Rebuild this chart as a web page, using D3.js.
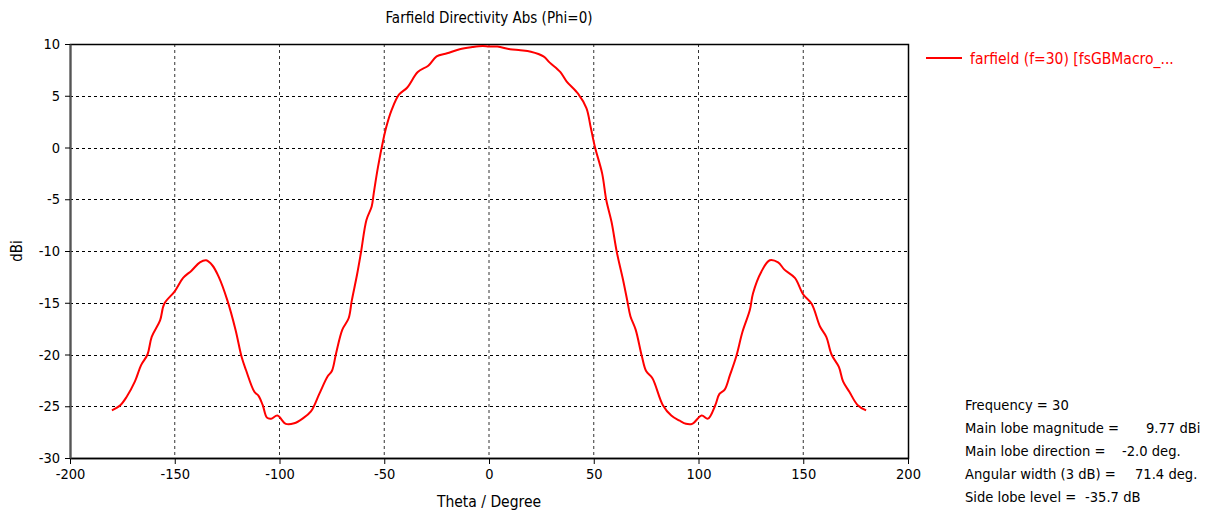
<!DOCTYPE html>
<html>
<head>
<meta charset="utf-8">
<script src="https://cdn.jsdelivr.net/npm/d3@7"></script>
<style>
  body { margin: 0; background: #fff; }
  text { font-family: Tahoma, "DejaVu Sans Condensed", "DejaVu Sans", sans-serif; }
</style>
</head>
<body>
<div id="chart"></div>
<script>
// data (theta in degrees, directivity in dBi)
const THETA = [-180, -176, -173, -169, -166, -163, -161, -157, -155, -150,
  -146, -142, -138, -135, -132, -129, -125, -121, -118, -116,
  -112, -110, -108, -106, -104, -101, -97, -93, -89, -85,
  -81, -77, -75, -73, -70, -67, -65.5, -63, -61, -58.5,
  -56, -55, -53, -50.5, -49, -46.5, -43, -39, -34, -29,
  -25, -20, -14, -8, -3, 0, 4, 10, 15, 20,
  26, 29, 34, 37, 42.5, 46.5, 48.5, 50.5, 54, 56,
  58.5, 61, 64, 66, 67.5, 70, 73, 75, 78, 83,
  87, 91, 94, 97, 101.5, 104.5, 108, 110, 112.5, 115,
  118, 121, 124.5, 126, 130, 134, 138, 141, 146, 150,
  154, 158, 161, 163.5, 167, 169, 172, 176, 180];
const DBI = [-25.4, -24.9, -24.1, -22.6, -21.0, -20.0, -18.3, -16.7, -15.1, -13.9,
  -12.6, -11.9, -11.1, -10.9, -11.4, -12.5, -14.7, -17.6, -20.3, -21.5,
  -23.6, -24.0, -24.9, -26.1, -26.2, -25.9, -26.7, -26.65, -26.2, -25.5,
  -23.8, -22.1, -21.6, -19.9, -17.6, -16.5, -14.8, -12.3, -10.0, -7.0,
  -5.7, -4.4, -1.9, 0.7, 2.0, 3.6, 5.1, 5.8, 7.3, 7.9,
  8.8, 9.1, 9.5, 9.7, 9.8, 9.75, 9.75, 9.5, 9.4, 9.25,
  8.8, 8.2, 7.3, 6.4, 5.2, 3.8, 2.0, 0.1, -2.5, -5.1,
  -7.2, -10.1, -12.8, -14.8, -16.3, -17.6, -20.2, -21.6, -22.3, -24.9,
  -25.9, -26.4, -26.7, -26.7, -25.9, -26.2, -24.9, -23.8, -23.4, -22.0,
  -20.2, -17.8, -15.7, -14.1, -12.0, -10.9, -11.1, -11.8, -12.6, -14.2,
  -15.1, -17.3, -18.3, -20.0, -21.2, -22.6, -23.6, -24.9, -25.4];

const X_TICKS = [-200, -150, -100, -50, 0, 50, 100, 150, 200];
const Y_TICKS = [-30, -25, -20, -15, -10, -5, 0, 5, 10];

const TITLE = "Farfield Directivity Abs (Phi=0)";
const X_LABEL = "Theta / Degree";
const Y_LABEL = "dBi";
const LEGEND = "farfield (f=30) [fsGBMacro_...";
const INFO_LABELS = ["Frequency = 30", "Main lobe magnitude =", "Main lobe direction =",
  "Angular width (3 dB) =", "Side lobe level ="];
const INFO_VALUES = ["", "9.77 dBi", "-2.0 deg.", "71.4 deg.", "-35.7 dB"];

// frame
const FRAME_WIDTH = 1209;
const FRAME_HEIGHT = 510;
const MARGINS = {left: 70, right: 301, top: 44, bottom: 52};
const VIS_WIDTH = FRAME_WIDTH - MARGINS.left - MARGINS.right;
const VIS_HEIGHT = FRAME_HEIGHT - MARGINS.top - MARGINS.bottom;

const svg = d3.select("#chart")
  .append("svg")
    .attr("width", FRAME_WIDTH)
    .attr("height", FRAME_HEIGHT);

const X_SCALE = d3.scaleLinear().domain([-200, 200]).range([0, VIS_WIDTH]);
const Y_SCALE = d3.scaleLinear().domain([-30, 10]).range([VIS_HEIGHT, 0]);

const plot = svg.append("g")
  .attr("transform", "translate(" + MARGINS.left + "," + MARGINS.top + ")");

// grid
plot.append("g").selectAll("line")
  .data(Y_TICKS.slice(1, -1))
  .enter().append("line")
    .attr("x1", 0).attr("x2", VIS_WIDTH)
    .attr("y1", d => Math.round(Y_SCALE(d)) + 0.5)
    .attr("y2", d => Math.round(Y_SCALE(d)) + 0.5)
    .attr("stroke", "#000").attr("stroke-dasharray", "3,3");
plot.append("g").selectAll("line")
  .data(X_TICKS.slice(1, -1))
  .enter().append("line")
    .attr("y1", 0).attr("y2", VIS_HEIGHT)
    .attr("x1", d => X_SCALE(d)).attr("x2", d => X_SCALE(d))
    .attr("stroke", "#333").attr("stroke-dasharray", "3,3");

// border
plot.append("rect")
  .attr("x", 0.5).attr("y", 0.5)
  .attr("width", VIS_WIDTH).attr("height", VIS_HEIGHT)
  .attr("fill", "none").attr("stroke", "#000").attr("stroke-width", 1.5);

// axes (plain hyphen for negatives, like the original)
const fmt = d => String(d);
const xAxis = plot.append("g")
  .attr("transform", "translate(0," + VIS_HEIGHT + ")")
  .call(d3.axisBottom(X_SCALE).tickValues(X_TICKS).tickFormat(fmt)
    .tickSize(6).tickSizeOuter(0).tickPadding(5));
const yAxis = plot.append("g")
  .call(d3.axisLeft(Y_SCALE).tickValues(Y_TICKS).tickFormat(fmt)
    .tickSize(5).tickSizeOuter(0).tickPadding(5));
[xAxis, yAxis].forEach(a => {
  a.select(".domain").attr("stroke", "#000").attr("stroke-width", 1.5);
  a.selectAll("text").attr("font-size", "14.5px").attr("fill", "#000")
    .attr("font-family", "Tahoma, 'DejaVu Sans Condensed', 'DejaVu Sans', sans-serif");
});
yAxis.select(".domain").attr("stroke", "#555").attr("stroke-width", 2);

// curve
const line = d3.line()
  .x((d, i) => X_SCALE(THETA[i]))
  .y(d => Y_SCALE(d))
  .curve(d3.curveCatmullRom);
plot.append("path")
  .datum(DBI)
  .attr("d", line)
  .attr("fill", "none")
  .attr("stroke", "#ff0000")
  .attr("stroke-width", 2);

// titles
svg.append("text")
  .attr("x", MARGINS.left + VIS_WIDTH / 2).attr("y", 23)
  .attr("text-anchor", "middle").attr("font-size", "15px")
  .text(TITLE);
svg.append("text")
  .attr("x", MARGINS.left + VIS_WIDTH / 2).attr("y", 507)
  .attr("text-anchor", "middle").attr("font-size", "15.5px")
  .text(X_LABEL);
svg.append("text")
  .attr("transform", "translate(22," + (MARGINS.top + VIS_HEIGHT / 2) + ") rotate(-90)")
  .attr("text-anchor", "middle").attr("font-size", "15px")
  .text(Y_LABEL);

// legend
const lx = MARGINS.left + VIS_WIDTH + 18;
svg.append("line")
  .attr("x1", lx).attr("x2", lx + 36).attr("y1", 58).attr("y2", 58)
  .attr("stroke", "#ff0000").attr("stroke-width", 2);
svg.append("text")
  .attr("x", lx + 44).attr("y", 64)
  .attr("font-size", "15.5px").attr("fill", "#ff0000")
  .text(LEGEND);

// info box
const VALUE_X = [0, 1146, 1122, 1135, 1085];
const info = svg.append("g");
INFO_LABELS.forEach((t, i) => {
  info.append("text")
    .attr("x", 965).attr("y", 410 + i * 23)
    .attr("font-size", "14.6px").text(t);
  if (INFO_VALUES[i]) {
    info.append("text")
      .attr("x", VALUE_X[i]).attr("y", 410 + i * 23)
      .attr("font-size", "14.6px").text(INFO_VALUES[i]);
  }
});
</script>
</body>
</html>
